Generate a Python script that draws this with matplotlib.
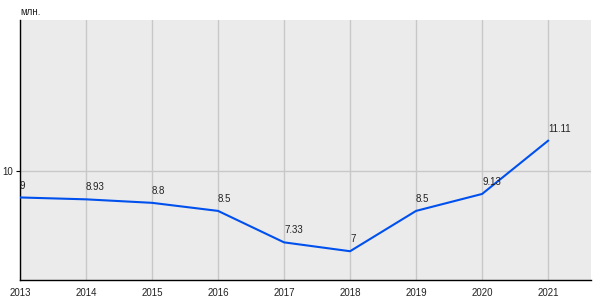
import matplotlib.pyplot as plt

plt.rcParams['font.family'] = ['Liberation Sans', 'DejaVu Sans']

years = [2013, 2014, 2015, 2016, 2017, 2018, 2019, 2020, 2021]
values = [9, 8.93, 8.8, 8.5, 7.33, 7, 8.5, 9.13, 11.11]
labels = ['9', '8.93', '8.8', '8.5', '7.33', '7', '8.5', '9.13', '11.11']

fig = plt.figure(figsize=(6, 3), dpi=100)
ax = fig.add_axes([20 / 600, 20 / 300, 571 / 600, 260 / 300])
ax.set_facecolor('#ebebeb')

# line with value labels above each point
ax.plot(years, values, color='#0050ee', linewidth=1.5, zorder=3)
for x, y, t in zip(years, values, labels):
    ax.annotate(t, (x, y), xytext=(0, 5), textcoords='offset points',
                fontsize=7, color='#222222', ha='left', va='bottom')

ax.set_xlim(2013, 2021.65)
ax.set_ylim(5.93, 15.6)
ax.set_xticks(years)
ax.set_xticklabels([str(y) for y in years])
ax.set_yticks([10])
ax.set_yticklabels(['10'])
ax.grid(True, color='#c8c8c8', linewidth=1)
ax.set_axisbelow(True)
ax.tick_params(axis='x', length=0, labelsize=7, pad=6, colors='#222222')
ax.tick_params(axis='y', length=3, labelsize=7, pad=2, colors='#222222')
ax.tick_params(axis='y', color='black')
for s in ['top', 'right']:
    ax.spines[s].set_visible(False)
for s in ['left', 'bottom']:
    ax.spines[s].set_color('black')
    ax.spines[s].set_linewidth(1)

fig.text(20 / 600, 1 - 12 / 300, 'млн.', fontsize=7, color='#222222',
         ha='left', va='center')

fig.savefig('out.png', dpi=100)
